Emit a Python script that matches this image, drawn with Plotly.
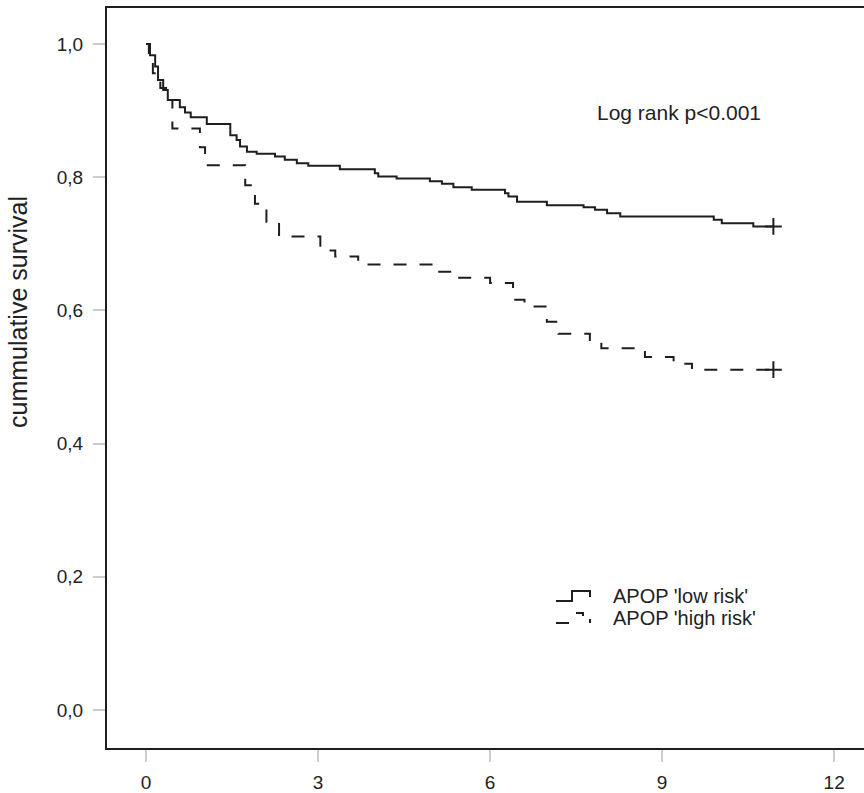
import plotly.graph_objects as go

# ---------------- data ----------------
low_t = [0.0, 0.07, 0.16, 0.21, 0.30, 0.38, 0.59, 0.68, 0.78, 1.06, 1.47, 1.58, 1.64, 1.76,
         1.93, 2.25, 2.42, 2.63, 2.83, 3.38, 3.99, 4.05, 4.37, 4.95, 5.16, 5.36, 5.68, 6.26,
         6.32, 6.47, 6.99, 7.63, 7.83, 8.04, 8.27, 9.90, 10.04, 10.59, 10.94]
low_s = [1.0, 0.983, 0.966, 0.946, 0.931, 0.916, 0.905, 0.897, 0.890, 0.880, 0.863, 0.856, 0.846, 0.838,
         0.835, 0.831, 0.826, 0.821, 0.817, 0.812, 0.806, 0.801, 0.798, 0.794, 0.790, 0.785, 0.781, 0.776,
         0.771, 0.763, 0.758, 0.755, 0.751, 0.746, 0.741, 0.736, 0.731, 0.726, 0.726]

high_t = [0.0, 0.05, 0.12, 0.25, 0.35, 0.46, 0.94, 1.03, 1.73, 1.90, 2.10, 2.32, 3.04, 3.30, 3.70,
          5.04, 5.36, 6.00, 6.40, 6.60, 6.99, 7.19, 7.74, 7.94, 8.70, 9.20, 9.52, 10.94]
high_s = [1.0, 0.978, 0.956, 0.934, 0.916, 0.873, 0.845, 0.818, 0.788, 0.760, 0.733, 0.711, 0.690, 0.681, 0.669,
          0.658, 0.649, 0.641, 0.616, 0.606, 0.583, 0.565, 0.553, 0.543, 0.530, 0.520, 0.511, 0.511]

x_ticks = [0, 3, 6, 9, 12]
y_ticks = [0.0, 0.2, 0.4, 0.6, 0.8, 1.0]
y_tick_text = ["0,0", "0,2", "0,4", "0,6", "0,8", "1,0"]
series_names = ["APOP 'low risk'", "APOP 'high risk'"]
y_title = "cummulative survival"
note_text = "Log rank p<0.001"

# ---------------- layout geometry ----------------
W, H = 864, 793
L, R, T, B = 107, 0, 8, 45
PW, PH = W - L - R, H - T - B

def px(x):
    return (x - L) / PW

def py(y):
    return (H - B - y) / PH

INK = "#1e1e1e"
TXT = "#222222"
FONT = "Liberation Sans, Arial, sans-serif"

fig = go.Figure()
fig.add_trace(go.Scatter(x=low_t, y=low_s, mode="lines", line=dict(shape="hv", color=INK, width=2),
                         showlegend=False, name=series_names[0]))
fig.add_trace(go.Scatter(x=high_t, y=high_s, mode="lines",
                         line=dict(shape="hv", color=INK, width=2, dash="13px,13px"),
                         showlegend=False, name=series_names[1]))
# censor marks at the end
fig.add_trace(go.Scatter(x=[low_t[-1], high_t[-1]], y=[low_s[-1], high_s[-1]], mode="markers",
                         marker=dict(symbol="cross-thin", size=12, line=dict(color=INK, width=2)),
                         showlegend=False, hoverinfo="skip"))

fig.update_layout(
    width=W, height=H, margin=dict(l=L, r=R, t=T, b=B, pad=0),
    paper_bgcolor="white", plot_bgcolor="white",
    font=dict(family=FONT, color=TXT),
)
fig.update_xaxes(range=[-0.68, 12.52], tickvals=x_ticks, ticktext=[str(v) for v in x_ticks],
                 showgrid=False, zeroline=False, showline=True, linecolor=INK, linewidth=2, mirror=True,
                 ticks="outside", ticklen=12, tickwidth=2, tickcolor="#cccccc",
                 tickfont=dict(size=19, family=FONT, color=TXT), ticklabelstandoff=4)
fig.update_yaxes(range=[-0.057, 1.054], tickvals=y_ticks, ticktext=y_tick_text,
                 showgrid=False, zeroline=False, showline=True, linecolor=INK, linewidth=2,
                 ticks="outside", ticklen=12, tickwidth=2, tickcolor="#cccccc",
                 tickfont=dict(size=19, family=FONT, color=TXT), ticklabelstandoff=6)

# y title
fig.add_annotation(x=px(18), y=py(312), xref="paper", yref="paper", text=y_title, textangle=-90,
                   showarrow=False, font=dict(size=25, family=FONT, color=TXT),
                   xanchor="center", yanchor="middle")
# log rank note
fig.add_annotation(x=px(595), y=py(112), xref="paper", yref="paper", text=note_text,
                   showarrow=False, font=dict(size=21, family=FONT, color=TXT),
                   xanchor="left", yanchor="middle")

# legend (custom, step-shaped keys)
rows = [(596, series_names[0]), (618, series_names[1])]
for yy, name in rows:
    fig.add_annotation(x=px(611), y=py(yy), xref="paper", yref="paper", text=name, showarrow=False,
                       font=dict(size=20, family=FONT, color=TXT), xanchor="left", yanchor="middle")

key_line = dict(color=INK, width=2)
y0 = rows[0][0]
fig.add_shape(type="path", xref="paper", yref="paper",
              path=f"M {px(556)} {py(y0+5)} L {px(572)} {py(y0+5)} L {px(572)} {py(y0-5)} "
                   f"L {px(590)} {py(y0-5)} L {px(590)} {py(y0+1)}",
              line=key_line)
y1 = rows[1][0]
fig.add_shape(type="line", xref="paper", yref="paper", x0=px(556), x1=px(569), y0=py(y1+5), y1=py(y1+5), line=key_line)
fig.add_shape(type="path", xref="paper", yref="paper",
              path=f"M {px(576)} {py(y1-5)} L {px(583)} {py(y1-5)} L {px(583)} {py(y1-2)}", line=key_line)
fig.add_shape(type="line", xref="paper", yref="paper", x0=px(590), x1=px(590), y0=py(y1+1), y1=py(y1+5), line=key_line)

fig.write_html("out.html")
